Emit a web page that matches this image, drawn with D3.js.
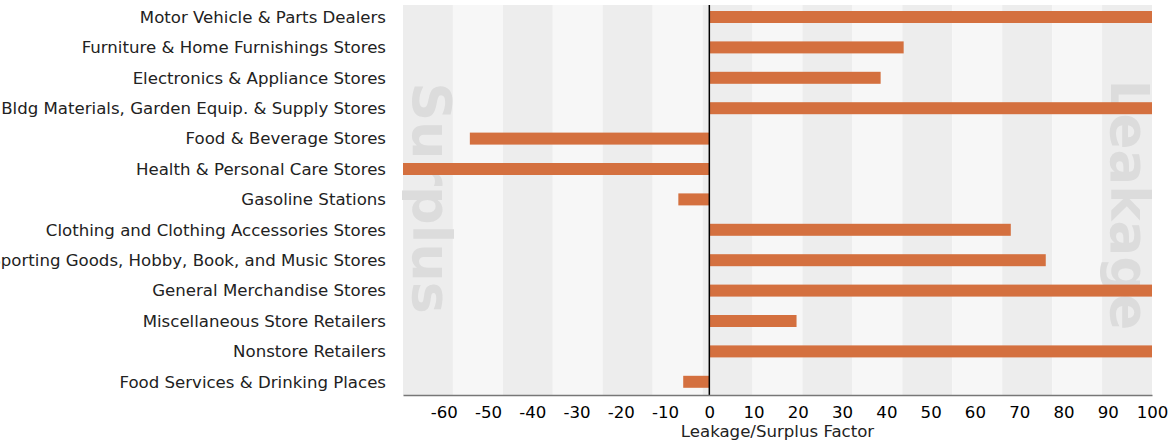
<!DOCTYPE html>
<html lang="en">
<head>
    <meta charset="UTF-8">
    <title>Leakage/Surplus Factor</title>
    <script src="https://cdn.jsdelivr.net/npm/d3@7/dist/d3.min.js"></script>
    <style>
        body{
            margin:0;
            padding:0;
            background:#fff;
        }
        text {
            font-family: "DejaVu Sans", Verdana, sans-serif;
            fill: #000;
        }
    </style>
</head>
<body>
<svg width=1168 height=445></svg>

<script>

var categories = [
    'Motor Vehicle & Parts Dealers',
    'Furniture & Home Furnishings Stores',
    'Electronics & Appliance Stores',
    'Bldg Materials, Garden Equip. & Supply Stores',
    'Food & Beverage Stores',
    'Health & Personal Care Stores',
    'Gasoline Stations',
    'Clothing and Clothing Accessories Stores',
    'Sporting Goods, Hobby, Book, and Music Stores',
    'General Merchandise Stores',
    'Miscellaneous Store Retailers',
    'Nonstore Retailers',
    'Food Services & Drinking Places'
]
var factors = [100, 43.9, 38.7, 100, -54.1, -72, -7.0, 68.1, 76.0, 100, 19.7, 100, -5.9]
var ticks = [-60, -50, -40, -30, -20, -10, 0, 10, 20, 30, 40, 50, 60, 70, 80, 90, 100]

var plotLeft = 403, plotRight = 1152, plotTop = 5, plotBottom = 395

var svg = d3.select('svg')

var x = d3.scaleLinear().domain([-69.2, 100]).range([plotLeft, plotRight]).clamp(true)
var y = d3.scaleBand().domain(categories).range([1.8, 397])

// alternating background stripes
var stripes = d3.scaleBand().domain(d3.range(15)).range([plotLeft, plotRight])
svg.append('g')
    .selectAll('rect')
    .data(stripes.domain())
    .enter()
    .append('rect')
    .attr('x', d => stripes(d))
    .attr('y', plotTop)
    .attr('width', stripes.bandwidth())
    .attr('height', plotBottom - plotTop)
    .attr('fill', d => d % 2 == 0 ? '#ededed' : '#f7f7f7')

// watermark words
svg.append('text')
    .attr('transform', 'translate(413,198) rotate(90)')
    .style('font-size', '54px')
    .style('font-weight', 'bold')
    .style('fill', '#dcdcdc')
    .attr('text-anchor', 'middle')
    .text('Surplus')
svg.append('text')
    .attr('transform', 'translate(1111,205) rotate(90)')
    .style('font-size', '53px')
    .style('font-weight', 'bold')
    .style('fill', '#dcdcdc')
    .attr('text-anchor', 'middle')
    .text('Leakage')

// bars
svg.append('g')
    .selectAll('rect')
    .data(categories)
    .enter()
    .append('rect')
    .attr('x', (d, i) => Math.min(x(0), x(factors[i])))
    .attr('y', d => y(d) + y.bandwidth() / 2 - 6)
    .attr('width', (d, i) => Math.abs(x(factors[i]) - x(0)))
    .attr('height', 12)
    .attr('fill', '#d4703f')

// zero line
svg.append('line')
    .attr('x1', x(0)).attr('x2', x(0))
    .attr('y1', plotTop).attr('y2', plotBottom)
    .attr('stroke', '#000')
    .attr('stroke-width', 1.5)

// category labels
svg.append('g')
    .selectAll('text')
    .data(categories)
    .enter()
    .append('text')
    .attr('x', 386)
    .attr('y', d => y(d) + y.bandwidth() / 2)
    .attr('dy', '0.35em')
    .attr('text-anchor', 'end')
    .style('font-size', '16.6px')
    .style('fill', '#222')
    .text(d => d)

// bottom axis
var xAxis = svg.append('g')
    .attr('transform', 'translate(0,' + plotBottom + ')')
    .call(d3.axisBottom(x).tickValues(ticks).tickFormat(d => String(d)).tickSize(0).tickPadding(11))
xAxis.select('.domain').attr('stroke', '#777').attr('stroke-width', 1.5)
xAxis.selectAll('text')
    .style('font-size', '16.6px')
    .style('font-family', '"DejaVu Sans", Verdana, sans-serif')
    .attr('fill', '#222')

svg.append('text')
    .attr('x', (plotLeft + plotRight) / 2)
    .attr('y', 437)
    .attr('text-anchor', 'middle')
    .style('font-size', '16.6px')
    .style('fill', '#222')
    .text('Leakage/Surplus Factor')

</script>
</body>
</html>
